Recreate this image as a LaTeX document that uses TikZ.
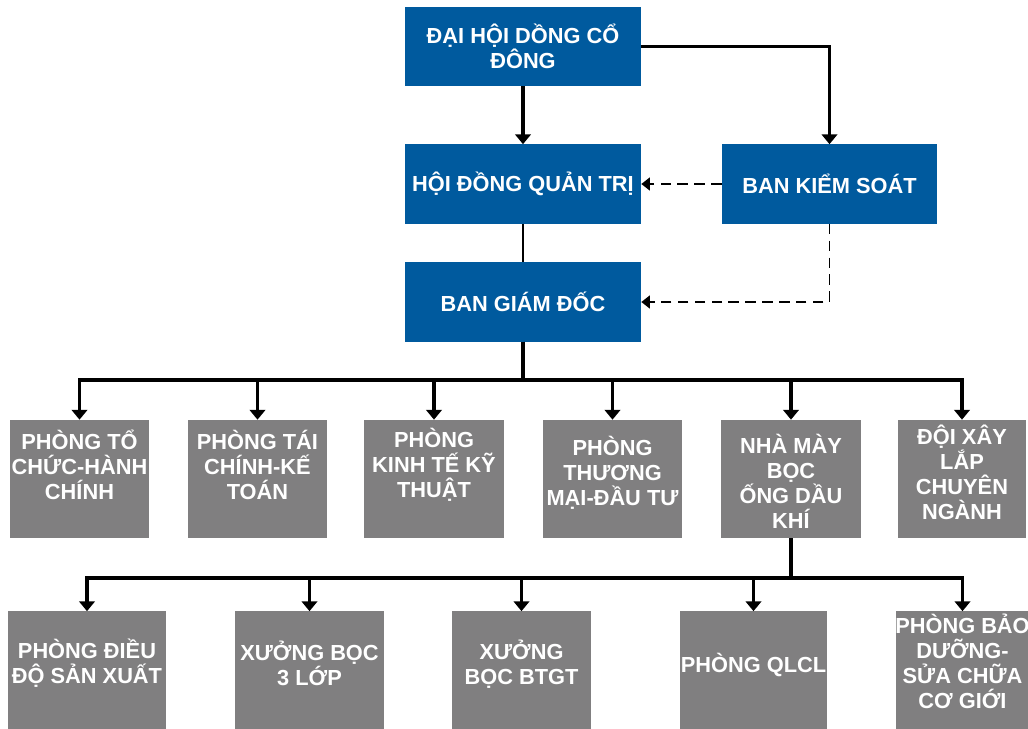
\documentclass[tikz,border=0pt]{standalone}
\usepackage{fontspec}
\setmainfont{Liberation Sans}
\usetikzlibrary{arrows.meta}
\definecolor{blue2}{HTML}{005A9E}
\definecolor{gray2}{HTML}{807F80}

\tikzset{
  lead/.style={fill=blue2, text=white, font=\bfseries\fontsize{15.5}{17.8}\selectfont, align=center, inner sep=0pt, minimum width=5.9cm, minimum height=1.975cm},
  unit/.style={fill=gray2, inner sep=0pt, minimum height=2.95cm},
  utext/.style={text=white, font=\bfseries\fontsize{15.5}{17.8}\selectfont, align=center, inner sep=0pt},
  link/.style={line width=2.2pt, -{Triangle[width=11pt,length=7pt]}},
  ctrl/.style={line width=1.3pt, dash pattern=on 7.5pt off 4.5pt, -{Triangle[width=9pt,length=6pt]}}
}

\begin{document}
\begin{tikzpicture}[x=0.025cm, y=-0.025cm]
\clip (0,0) rectangle (1028,729);

% governing bodies
\node[lead] (dh) at (523,46.5) {ĐẠI HỘI DỒNG CỔ\\ĐÔNG};
\node[lead] (hd) at (523,184) {HỘI ĐỒNG QUẢN TRỊ};
\node[lead, minimum width=5.375cm] (bk) at (829.5,184) {BAN KIỂM SOÁT};
\node[lead] (bg) at (523,302) {BAN GIÁM ĐỐC};

% departments
\node[unit, minimum width=3.475cm, label={[utext,yshift=.36cm]center:{PHÒNG TỔ\\CHỨC-HÀNH\\CHÍNH}}] (tc) at (79.5,479) {};
\node[unit, minimum width=3.475cm, label={[utext,yshift=.36cm]center:{PHÒNG TÁI\\CHÍNH-KẾ\\TOÁN}}] (tk) at (257.5,479) {};
\node[unit, minimum width=3.475cm, label={[utext,yshift=.36cm]center:{PHÒNG\\KINH TẾ KỸ\\THUẬT}}] (kt) at (434,479) {};
\node[unit, minimum width=3.475cm, label={[utext,yshift=.15cm]center:{PHÒNG\\THƯƠNG\\MẠI-ĐẦU TƯ}}] (tm) at (612.5,479) {};
\node[unit, minimum width=3.475cm, label={[utext,yshift=-.05cm]center:{NHÀ MÀY\\BỌC\\ỐNG DẦU\\KHÍ}}] (nm) at (791,479) {};
\node[unit, minimum width=3.2cm, label={[utext,yshift=.17cm]center:{ĐỘI XÂY\\LẮP\\CHUYÊN\\NGÀNH}}] (dx) at (962,479) {};

% factory units
\node[unit, minimum width=3.95cm, label={[utext,yshift=.18cm]center:{PHÒNG ĐIỀU\\ĐỘ SẢN XUẤT}}] (dd) at (87,670.5) {};
\node[unit, minimum width=3.725cm, label={[utext,yshift=.18cm]center:{XƯỞNG BỌC\\3 LỚP}}] (x3) at (309.5,670.5) {};
\node[unit, minimum width=3.475cm, label={[utext,yshift=.15cm]center:{XƯỞNG\\BỌC BTGT}}] (bt) at (521.5,670.5) {};
\node[unit, minimum width=3.675cm, label={[utext,yshift=.14cm]center:{PHÒNG QLCL}}] (ql) at (753.5,670.5) {};
\node[unit, minimum width=3.325cm, label={[utext,yshift=.22cm]center:{PHÒNG BẢO\\DƯỠNG-\\SỬA CHỮA\\CƠ GIỚI}}] (bd) at (962.5,670.5) {};

\coordinate (bus1) at (523,380);
\coordinate (bus2) at (790,578);

\draw[link] (dh.south) -- (hd.north);
\draw[link] (dh.east) -| (bk.north);
\draw[ctrl] (bk.west) -- (hd.east);
\draw[ctrl] (bk.south) |- (bg.east);
\draw[line width=1pt] (hd.south) -- (bg.north);

\foreach \u in {tc,tk,kt,tm,nm,dx}
  \draw[link] (bg.south) |- (bus1 -| \u.north) -- (\u.north);
\foreach \u in {dd,x3,bt,ql,bd}
  \draw[link] (nm.south) |- (bus2 -| \u.north) -- (\u.north);
\end{tikzpicture}
\end{document}
